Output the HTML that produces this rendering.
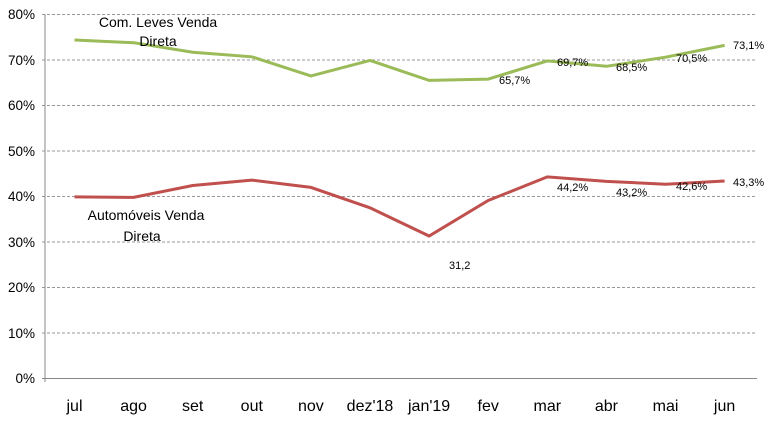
<!DOCTYPE html>
<html><head><style>body{margin:0;background:#fff}svg{display:block}</style></head><body>
<svg width="768" height="422" xmlns="http://www.w3.org/2000/svg" font-family="Liberation Sans, sans-serif">
<g stroke="#999" stroke-dasharray="3,2" stroke-width="1">
<line x1="42" x2="757" y1="14.5" y2="14.5"/><line x1="42" x2="757" y1="60" y2="60"/><line x1="42" x2="757" y1="105.5" y2="105.5"/><line x1="42" x2="757" y1="151" y2="151"/><line x1="42" x2="757" y1="196.5" y2="196.5"/><line x1="42" x2="757" y1="242" y2="242"/><line x1="42" x2="757" y1="287.5" y2="287.5"/><line x1="42" x2="757" y1="333" y2="333"/>
</g>
<line x1="45" x2="45" y1="14" y2="382" stroke="#888"/>
<line x1="42" x2="757" y1="378.5" y2="378.5" stroke="#888"/>
<g font-size="13.5" fill="#000" text-anchor="end">
<text x="35" y="19">80%</text><text x="35" y="65">70%</text><text x="35" y="110">60%</text><text x="35" y="156">50%</text><text x="35" y="201">40%</text><text x="35" y="247">30%</text><text x="35" y="292">20%</text><text x="35" y="338">10%</text><text x="35" y="383">0%</text>
</g>
<g font-size="16" text-anchor="middle">
<text x="74.5" y="411">jul</text><text x="133.6" y="411">ago</text><text x="192.7" y="411">set</text><text x="251.8" y="411">out</text><text x="310.9" y="411">nov</text><text x="370" y="411">dez'18</text><text x="429.1" y="411">jan'19</text><text x="488.2" y="411">fev</text><text x="547.3" y="411">mar</text><text x="606.4" y="411">abr</text><text x="665.5" y="411">mai</text><text x="724.6" y="411">jun</text>
</g>
<polyline fill="none" stroke="#9bbb59" stroke-width="3" points="74.5,40 133.6,42.7 192.7,52.2 251.8,56.8 310.9,75.9 370,60.4 429.1,80.4 488.2,79.1 547.3,60.9 606.4,66.3 665.5,57.2 724.6,45.4"/>
<polyline fill="none" stroke="#c0504d" stroke-width="3" points="74.5,196.9 133.6,197.4 192.7,185.5 251.8,180.1 310.9,187.4 370,207.8 429.1,236 488.2,200.5 547.3,176.9 606.4,181.4 665.5,184.2 724.6,181"/>
<g font-size="14" text-anchor="middle">
<text x="158" y="27">Com. Leves Venda</text><text x="158" y="46">Direta</text>
<text x="146" y="220">Automóveis Venda</text><text x="142" y="241">Direta</text>
</g>
<g font-size="11">
<text x="733" y="49">73,1%</text><text x="676" y="62">70,5%</text><text x="616" y="71">68,5%</text><text x="557" y="66">69,7%</text><text x="499" y="84">65,7%</text>
<text x="733" y="186">43,3%</text><text x="676" y="190">42,6%</text><text x="616" y="196">43,2%</text><text x="557" y="191">44,2%</text><text x="449" y="269">31,2</text>
</g>
</svg>
</body></html>
